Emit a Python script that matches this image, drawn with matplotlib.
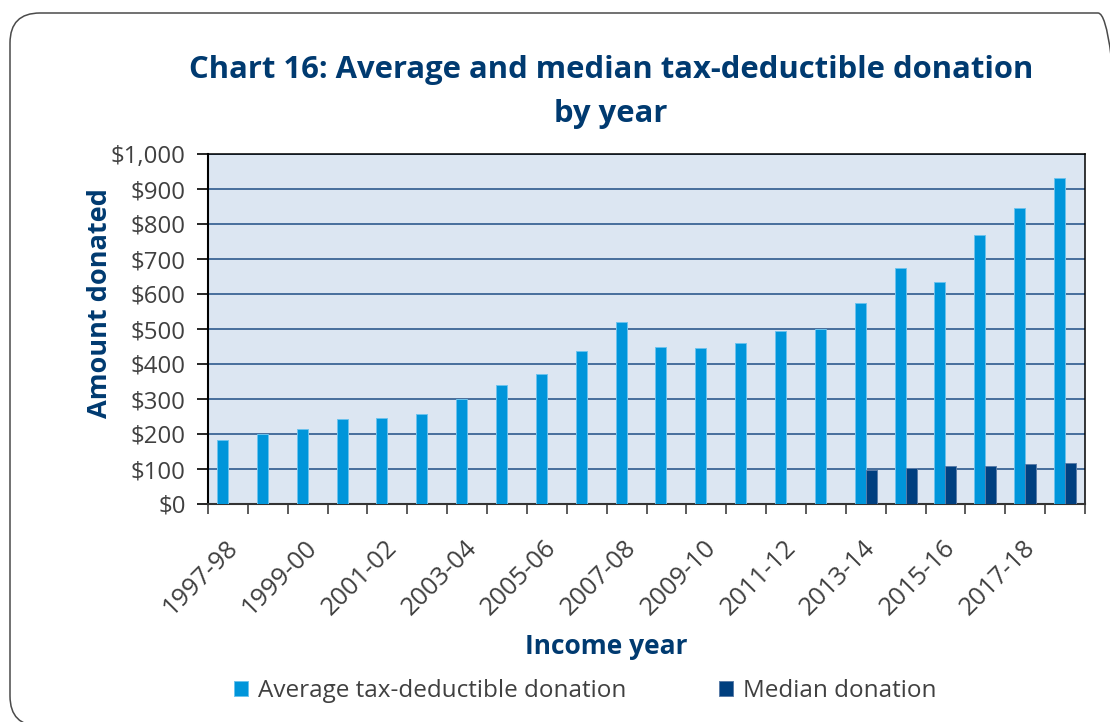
import numpy as np
import matplotlib
matplotlib.use("Agg")
import matplotlib.pyplot as plt
from matplotlib.patches import FancyBboxPatch
from matplotlib.transforms import ScaledTranslation

# Income years and donation amounts ($)
years = ["1997-98", "1998-99", "1999-00", "2000-01", "2001-02", "2002-03",
         "2003-04", "2004-05", "2005-06", "2006-07", "2007-08", "2008-09",
         "2009-10", "2010-11", "2011-12", "2012-13", "2013-14", "2014-15",
         "2015-16", "2016-17", "2017-18", "2018-19"]
average_donation = [183, 201, 213, 243, 246, 258, 299, 340, 371, 438, 521,
                    448, 445, 460, 493, 501, 574, 673, 633, 769, 845, 932]
median_donation = [None] * 16 + [98, 103, 109, 109, 113, 118]

y_ticks = [0, 100, 200, 300, 400, 500, 600, 700, 800, 900, 1000]

AVG_COLOR = "#0095DA"
MED_COLOR = "#003F7F"
NAVY = "#003A70"
GREY_TEXT = "#404040"

plt.rcParams["font.family"] = ["Open Sans", "DejaVu Sans"]

W, H = 1110, 722
fig = plt.figure(figsize=(W / 100, H / 100), dpi=100)
fig.patch.set_facecolor("white")

# rounded outer frame (runs past the right and bottom edges)
fx0, fx1, fy_top, fy_bot = 10, 1128, 13, 726
frame = FancyBboxPatch((fx0 / W, 1 - fy_bot / H), (fx1 - fx0) / W,
                       (fy_bot - fy_top) / H,
                       boxstyle=f"round,pad=0,rounding_size={30 / W}",
                       mutation_aspect=W / H,
                       transform=fig.transFigure, facecolor="none",
                       edgecolor="#4a4a4a", linewidth=1.1, zorder=0,
                       clip_on=False)
fig.add_artist(frame)

ax = fig.add_axes([208 / W, 1 - 504 / H, 877 / W, 350 / H])
ax.set_facecolor("#DCE6F2")

x = np.arange(len(years))
w = 0.276
ax.bar(x - w / 2, average_donation, width=w, color=AVG_COLOR,
       edgecolor="#6CC3EE", linewidth=0.7, zorder=3,
       label="Average tax-deductible donation")
med_idx = [i for i, v in enumerate(median_donation) if v is not None]
med_vals = [median_donation[i] for i in med_idx]
ax.bar(np.array(med_idx) + w / 2, med_vals, width=w, color=MED_COLOR,
       edgecolor="#5A7CA8", linewidth=0.7, zorder=3,
       label="Median donation")

ax.set_xlim(-0.5, len(years) - 0.5)
ax.set_ylim(0, 1000)
ax.set_yticks(y_ticks)
ax.set_yticklabels([f"${v:,}" for v in y_ticks])
ax.yaxis.grid(True, color="#1F4E85", linewidth=1.1, zorder=1)
ax.set_axisbelow(True)

# category labels on every other year, tick marks at category boundaries
ax.set_xticks(x[::2])
ax.set_xticklabels(years[::2], rotation=45, ha="right", va="center",
                   rotation_mode="anchor")
ax.set_xticks(np.arange(-0.5, len(years)), minor=True)
ax.tick_params(axis="x", which="major", length=0, pad=29,
               labelsize=18.3, labelcolor=GREY_TEXT)
ax.tick_params(axis="x", which="minor", length=7, width=1.2,
               color="#404040", direction="out")
ax.tick_params(axis="y", length=8, width=1.2, color="black",
               labelsize=17.3, labelcolor=GREY_TEXT, pad=8)
shift = ScaledTranslation(6 / 100, 0, fig.dpi_scale_trans)
for lbl in ax.get_xticklabels():
    lbl.set_transform(lbl.get_transform() + shift)

for side in ["top", "right", "left"]:
    ax.spines[side].set_color("black")
    ax.spines[side].set_linewidth(1.1)
ax.spines["left"].set_linewidth(1.5)
ax.spines["bottom"].set_color("#333333")
ax.spines["bottom"].set_linewidth(1.5)

ax.set_ylabel("Amount donated", fontsize=19.5, fontweight="bold", color=NAVY)
ax.yaxis.set_label_coords((100 - 208) / 877, (504 - 303) / 350)
ax.yaxis.label.set_va("center")
ax.set_xlabel("Income year", fontsize=19, fontweight="bold", color=NAVY)
ax.xaxis.set_label_coords((606 - 208) / 877, (504 - 647) / 350)
ax.xaxis.label.set_va("center")

fig.text(611 / W, 1 - 70 / H,
         "Chart 16: Average and median tax-deductible donation",
         ha="center", va="center", fontsize=22.3, fontweight="bold", color=NAVY)
fig.text(611 / W, 1 - 114 / H, "by year",
         ha="center", va="center", fontsize=22.3, fontweight="bold", color=NAVY)

fig.legend(loc="center", bbox_to_anchor=(585 / W, 1 - 691 / H),
           ncol=2, frameon=False, fontsize=17.5, handlelength=0.6,
           handleheight=0.6, handletextpad=0.4, columnspacing=3.8,
           labelcolor=GREY_TEXT)

fig.savefig("out.png", dpi=100)
